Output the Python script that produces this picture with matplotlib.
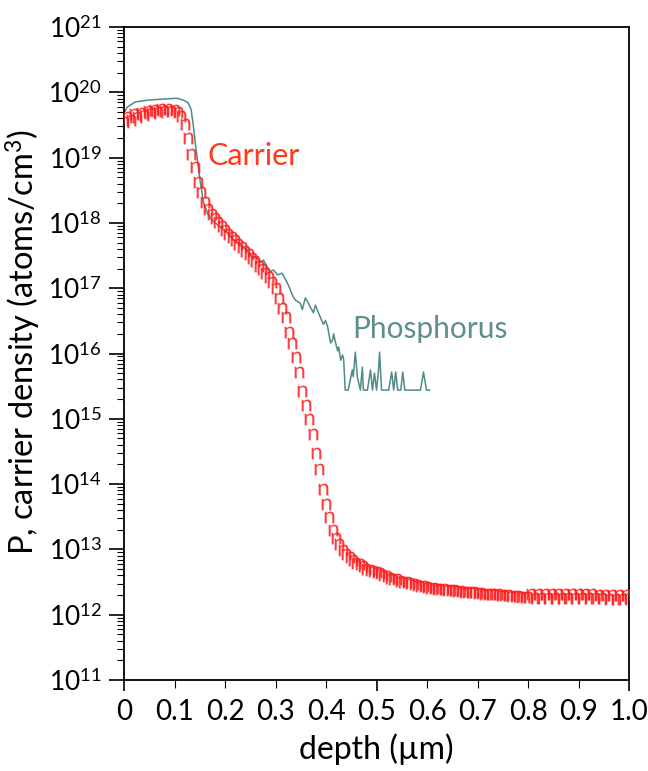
import numpy as np
import matplotlib
matplotlib.use("Agg")
import matplotlib.pyplot as plt
from matplotlib.ticker import LogLocator, MultipleLocator, FuncFormatter, NullFormatter

plt.rcParams['font.family'] = ['Lato', 'DejaVu Sans']
plt.rcParams['mathtext.fontset'] = 'custom'
plt.rcParams['mathtext.rm'] = 'Lato'
plt.rcParams['mathtext.it'] = 'Lato:italic'
plt.rcParams['mathtext.bf'] = 'Lato:bold'

# carrier density, sampled every 1/150 um from 0 to 1.0
carrier_conc = [
    3.5e19, 4.2e19, 3.8e19, 4.6e19, 4.2e19, 4.9e19, 4.5e19, 5.1e19, 4.8e19, 5.4e19,
    5.0e19, 5.5e19, 5.2e19, 5.5e19, 5.2e19, 5.4e19, 5.0e19, 4.4e19, 3.3e19, 2.0e19,
    1.15e19, 7.2e18, 4.2e18, 3.0e18, 2.1e18, 1.66e18, 1.35e18, 1.17e18, 1.05e18, 8.9e17,
    7.8e17, 6.8e17, 6.0e17, 5.4e17, 4.8e17, 4.3e17, 3.7e17, 3.3e17, 2.9e17, 2.6e17,
    2.2e17, 1.95e17, 1.7e17, 1.48e17, 1.23e17, 1.0e17, 7.1e16, 5.0e16, 3.6e16, 2.1e16,
    1.45e16, 8.9e15, 5.2e15, 2.7e15, 1.6e15, 9.8e14, 5.8e14, 3.0e14, 1.7e14, 8.5e13,
    5.0e13, 3.1e13, 2.0e13, 1.5e13, 1.2e13, 9.8e12, 8.5e12, 7.6e12, 6.9e12, 6.3e12,
    5.9e12, 5.5e12, 5.1e12, 4.9e12, 4.7e12, 4.5e12, 4.3e12, 4.1e12, 3.9e12, 3.7e12,
    3.55e12, 3.5e12, 3.3e12, 3.2e12, 3.15e12, 3.1e12, 3.0e12, 2.9e12, 2.8e12, 2.75e12,
    2.7e12, 2.6e12, 2.57e12, 2.5e12, 2.5e12, 2.45e12, 2.4e12, 2.4e12, 2.35e12, 2.3e12,
    2.3e12, 2.25e12, 2.25e12, 2.2e12, 2.2e12, 2.15e12, 2.15e12, 2.1e12, 2.1e12, 2.05e12,
    2.05e12, 2.05e12, 2.0e12, 2.0e12, 2.0e12, 1.95e12, 1.95e12, 1.95e12, 1.9e12, 1.9e12,
    1.86e12, 2.1e12, 1.82e12, 2.08e12, 1.82e12, 2.08e12, 1.8e12, 2.06e12, 1.8e12, 2.06e12,
    1.8e12, 2.05e12, 1.8e12, 2.05e12, 1.78e12, 2.04e12, 1.78e12, 2.04e12, 1.78e12, 2.04e12,
    1.78e12, 2.03e12, 1.78e12, 2.03e12, 1.77e12, 2.03e12, 1.77e12, 2.02e12, 1.77e12, 2.02e12,
    1.8e12,
]
carrier_depth = np.linspace(0, 1.0, len(carrier_conc))

# phosphorus (SIMS) profile
phos_depth = [
    0.000, 0.006, 0.022, 0.048, 0.081, 0.105, 0.117, 0.127, 0.133, 0.137,
    0.141, 0.145, 0.149, 0.153, 0.157, 0.165, 0.175, 0.190, 0.204, 0.216,
    0.230, 0.244, 0.254, 0.264, 0.270, 0.276, 0.284, 0.290, 0.296, 0.304,
    0.313, 0.319, 0.327, 0.333, 0.339, 0.349, 0.353, 0.359, 0.365, 0.369,
    0.375, 0.379, 0.385, 0.393, 0.395, 0.399, 0.403, 0.409, 0.413, 0.415,
    0.419, 0.423, 0.425, 0.429, 0.433, 0.435, 0.438, 0.444, 0.452, 0.454,
    0.458, 0.462, 0.468, 0.472, 0.474, 0.482, 0.488, 0.492, 0.496, 0.500,
    0.504, 0.506, 0.510, 0.524, 0.530, 0.534, 0.538, 0.542, 0.548, 0.552,
    0.556, 0.587, 0.593, 0.599, 0.605,
]
phos_conc = [
    4.8e19, 5.9e19, 7.1e19, 7.6e19, 7.9e19, 8.1e19, 7.6e19, 6.9e19, 5.4e19, 3.2e19,
    1.7e19, 9.8e18, 5.4e18, 3.4e18, 2.1e18, 1.4e18, 1.1e18, 8.7e17, 7.1e17, 5.5e17,
    4.6e17, 3.8e17, 3.0e17, 2.9e17, 2.5e17, 2.7e17, 2.1e17, 1.8e17, 1.9e17, 1.6e17,
    1.7e17, 1.4e17, 1.05e17, 7.9e16, 6.6e16, 5.9e16, 4.7e16, 7.1e16, 5.9e16, 5.1e16,
    4.2e16, 5.5e16, 4.2e16, 3.0e16, 2.8e16, 3.2e16, 2.6e16, 1.45e16, 1.6e16, 2.0e16,
    1.45e16, 1.1e16, 1.26e16, 7.9e15, 9.5e15, 7.9e15, 2.75e15, 2.75e15, 5.6e15, 4.4e15,
    1.05e16, 4.4e15, 2.75e15, 6.2e15, 2.75e15, 2.75e15, 5.6e15, 2.75e15, 5.0e15, 2.75e15,
    5.6e15, 1.05e16, 2.75e15, 2.75e15, 5.2e15, 2.75e15, 5.2e15, 2.75e15, 2.75e15, 5.2e15,
    2.75e15, 2.75e15, 5.2e15, 2.75e15, 2.75e15,
]

teal = '#4f8b88'
red = '#ff1a1a'

fig = plt.figure(figsize=(6.48, 7.71), dpi=100)
ax = fig.add_axes([0.1914, 0.118, 0.7793, 0.847])

ax.plot(phos_depth, phos_conc, color=teal, lw=1.1, zorder=2)
ax.plot(carrier_depth, carrier_conc, ls='none', marker=r'$\mathrm{n}$',
        ms=8.5, color=red, mew=0, alpha=0.85, zorder=3)

ax.set_yscale('log')
ax.set_xlim(0, 1.0)
ax.set_ylim(1e11, 1e21)

ax.yaxis.set_major_locator(LogLocator(base=10, numticks=20))
ax.yaxis.set_minor_locator(LogLocator(base=10, subs=np.arange(2, 10), numticks=200))
ax.yaxis.set_major_formatter(FuncFormatter(lambda v, p: r'$10^{%d}$' % round(np.log10(v))))
ax.yaxis.set_minor_formatter(NullFormatter())

ax.xaxis.set_major_locator(MultipleLocator(0.5))
ax.xaxis.set_minor_locator(MultipleLocator(0.1))
fmt = lambda v, p: '0' if abs(v) < 1e-9 else ('1.0' if abs(v - 1) < 1e-9 else '%.1f' % v)
ax.xaxis.set_major_formatter(FuncFormatter(fmt))
ax.xaxis.set_minor_formatter(FuncFormatter(fmt))

ax.tick_params(axis='y', which='major', direction='out', length=11, width=1.2,
               labelsize=19, pad=5)
ax.tick_params(axis='y', which='minor', direction='out', length=5, width=0.8)
ax.tick_params(axis='x', which='major', direction='out', length=8, width=1.2,
               labelsize=20, pad=6)
ax.tick_params(axis='x', which='minor', direction='out', length=6, width=0.8,
               labelsize=20, pad=8)

for s in ax.spines.values():
    s.set_linewidth(1.3)

ax.set_xlabel('depth (µm)', fontsize=23, labelpad=6)
ax.set_ylabel(r'P, carrier density (atoms/cm$^3$)', fontsize=23.5)
ax.yaxis.set_label_coords(-0.16, 0.517)

ax.text(0.165, 7.8e18, 'Carrier', color='#ff3a1a', fontsize=22, ha='left', va='baseline')
ax.text(0.452, 1.75e16, 'Phosphorus', color='#5f8f8c', fontsize=21.5, ha='left', va='baseline')

fig.savefig('out.png', dpi=100)
